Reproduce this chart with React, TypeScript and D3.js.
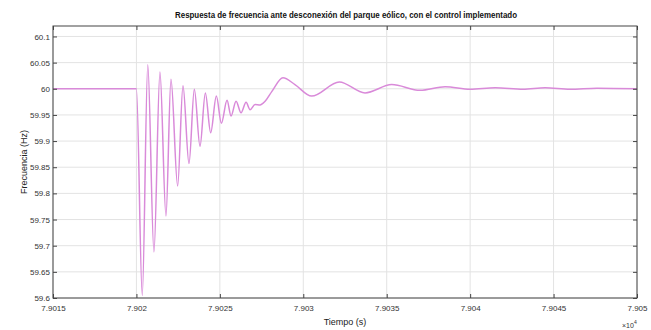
import { useEffect, useRef } from 'react';
import * as d3 from 'd3';

// time in units of x10^4 s, frequency in Hz
const time = [
  7.9015, 7.902, 7.902035, 7.902068, 7.902105, 7.902141, 7.902177, 7.902207, 7.902247,
  7.902279, 7.902315, 7.902347, 7.902381, 7.902413, 7.902445, 7.902479, 7.902509,
  7.902543, 7.902567, 7.902597, 7.902627, 7.902657, 7.902681, 7.902711, 7.902741,
  7.902771, 7.902812, 7.902878, 7.90295, 7.90305, 7.903216, 7.90337, 7.90353, 7.9037,
  7.90385, 7.904, 7.90415, 7.904317, 7.904449, 7.904598, 7.90476, 7.905,
];
const freq = [
  60, 60, 59.605, 60.046, 59.688, 60.032, 59.757, 60.018, 59.814,
  60.006, 59.857, 59.999, 59.89, 59.992, 59.916, 59.986, 59.934,
  59.978, 59.948, 59.976, 59.954, 59.974, 59.96, 59.97, 59.969,
  59.976, 59.995, 60.021, 60.008, 59.986, 60.013, 59.992, 60.008, 59.997,
  60.004, 59.999, 60.002, 59.999, 60.002, 59.999, 60.001, 60,
];
const xTicks = [7.9015, 7.902, 7.9025, 7.903, 7.9035, 7.904, 7.9045, 7.905];
const xTickLabels = ['7.9015', '7.902', '7.9025', '7.903', '7.9035', '7.904', '7.9045', '7.905'];
const yTicks = [59.6, 59.65, 59.7, 59.75, 59.8, 59.85, 59.9, 59.95, 60, 60.05, 60.1];
const yTickLabels = ['59.6', '59.65', '59.7', '59.75', '59.8', '59.85', '59.9', '59.95', '60', '60.05', '60.1'];

const FrequencyChart = () => {
  const svgRef = useRef<SVGSVGElement>(null);

  useEffect(() => {
    const root = d3.select(svgRef.current);
    root.selectAll('*').remove();

    const width = 651;
    const height = 330;
    const margin = { top: 26, right: 14, bottom: 32, left: 53 };
    const w = width - margin.left - margin.right;
    const h = height - margin.top - margin.bottom;
    const font = 'Arial, "Liberation Sans", sans-serif';

    root.attr('viewBox', `0 0 ${width} ${height}`).attr('preserveAspectRatio', 'none');
    root.append('rect').attr('width', width).attr('height', height).attr('fill', '#fff');

    const svg = root.append('g').attr('transform', `translate(${margin.left},${margin.top})`);

    const x = d3.scaleLinear().domain([7.9015, 7.905]).range([0, w]);
    const y = d3.scaleLinear().domain([59.6, 60.12]).range([h, 0]);

    // Grid
    svg.append('g')
      .selectAll('line')
      .data(xTicks)
      .join('line')
      .attr('x1', d => x(d)).attr('x2', d => x(d))
      .attr('y1', 0).attr('y2', h)
      .attr('stroke', '#e3e3e3').attr('stroke-width', 1);
    svg.append('g')
      .selectAll('line')
      .data(yTicks)
      .join('line')
      .attr('x1', 0).attr('x2', w)
      .attr('y1', d => y(d)).attr('y2', d => y(d))
      .attr('stroke', '#e3e3e3').attr('stroke-width', 1);

    // Signal
    const line = d3.line<number>()
      .x((_, i) => x(time[i]))
      .y(d => y(d))
      .curve(d3.curveMonotoneX);
    svg.append('path')
      .datum(freq)
      .attr('d', line)
      .attr('fill', 'none')
      .attr('stroke', '#d98ad9')
      .attr('stroke-width', 1.5);

    // Box
    svg.append('rect')
      .attr('width', w).attr('height', h)
      .attr('fill', 'none').attr('stroke', '#444').attr('stroke-width', 1);

    // Axes (inward ticks)
    const xAxis = svg.append('g')
      .attr('transform', `translate(0,${h})`)
      .call(d3.axisBottom(x).tickValues(xTicks).tickSize(-4)
        .tickFormat((_, i) => xTickLabels[i]));
    xAxis.select('.domain').remove();
    xAxis.selectAll('line').attr('stroke', '#444');
    xAxis.selectAll('text')
      .attr('y', 7)
      .style('font-family', font).style('font-size', '8px').attr('fill', '#333');

    const xTop = svg.append('g')
      .call(d3.axisTop(x).tickValues(xTicks).tickSize(-4).tickFormat(() => ''));
    xTop.select('.domain').remove();
    xTop.selectAll('line').attr('stroke', '#444');

    const yAxis = svg.append('g')
      .call(d3.axisLeft(y).tickValues(yTicks).tickSize(-4)
        .tickFormat((_, i) => yTickLabels[i]));
    yAxis.select('.domain').remove();
    yAxis.selectAll('line').attr('stroke', '#444');
    yAxis.selectAll('text')
      .attr('x', -3)
      .style('font-family', font).style('font-size', '8px').attr('fill', '#333');

    const yRight = svg.append('g')
      .attr('transform', `translate(${w},0)`)
      .call(d3.axisRight(y).tickValues(yTicks).tickSize(-4).tickFormat(() => ''));
    yRight.select('.domain').remove();
    yRight.selectAll('line').attr('stroke', '#444');

    // Title
    root.append('text')
      .attr('x', 346).attr('y', 18)
      .attr('text-anchor', 'middle')
      .attr('textLength', 342).attr('lengthAdjust', 'spacingAndGlyphs')
      .style('font-family', font).style('font-size', '9px').style('font-weight', 'bold')
      .attr('fill', '#111')
      .text('Respuesta de frecuencia ante desconexión del parque eólico, con el control implementado');

    // Axis labels
    root.append('text')
      .attr('x', margin.left + w / 2).attr('y', 325)
      .attr('text-anchor', 'middle')
      .style('font-family', font).style('font-size', '9px').attr('fill', '#222')
      .text('Tiempo (s)');

    root.append('text')
      .attr('transform', `translate(27,${margin.top + h / 2}) rotate(-90)`)
      .attr('text-anchor', 'middle')
      .style('font-family', font).style('font-size', '9px').attr('fill', '#222')
      .text('Frecuencia (Hz)');

    const exp = root.append('text')
      .attr('x', 622).attr('y', 328)
      .style('font-family', font).style('font-size', '7px').attr('fill', '#333');
    exp.append('tspan').text('×10');
    exp.append('tspan').attr('dy', -4).style('font-size', '5px').text('4');
  }, []);

  return (
    <svg
      ref={svgRef}
      style={{ position: 'fixed', left: 0, top: 0, width: '100vw', height: '100vh', display: 'block' }}
    ></svg>
  );
};

export default function App() {
  return <FrequencyChart />;
}
